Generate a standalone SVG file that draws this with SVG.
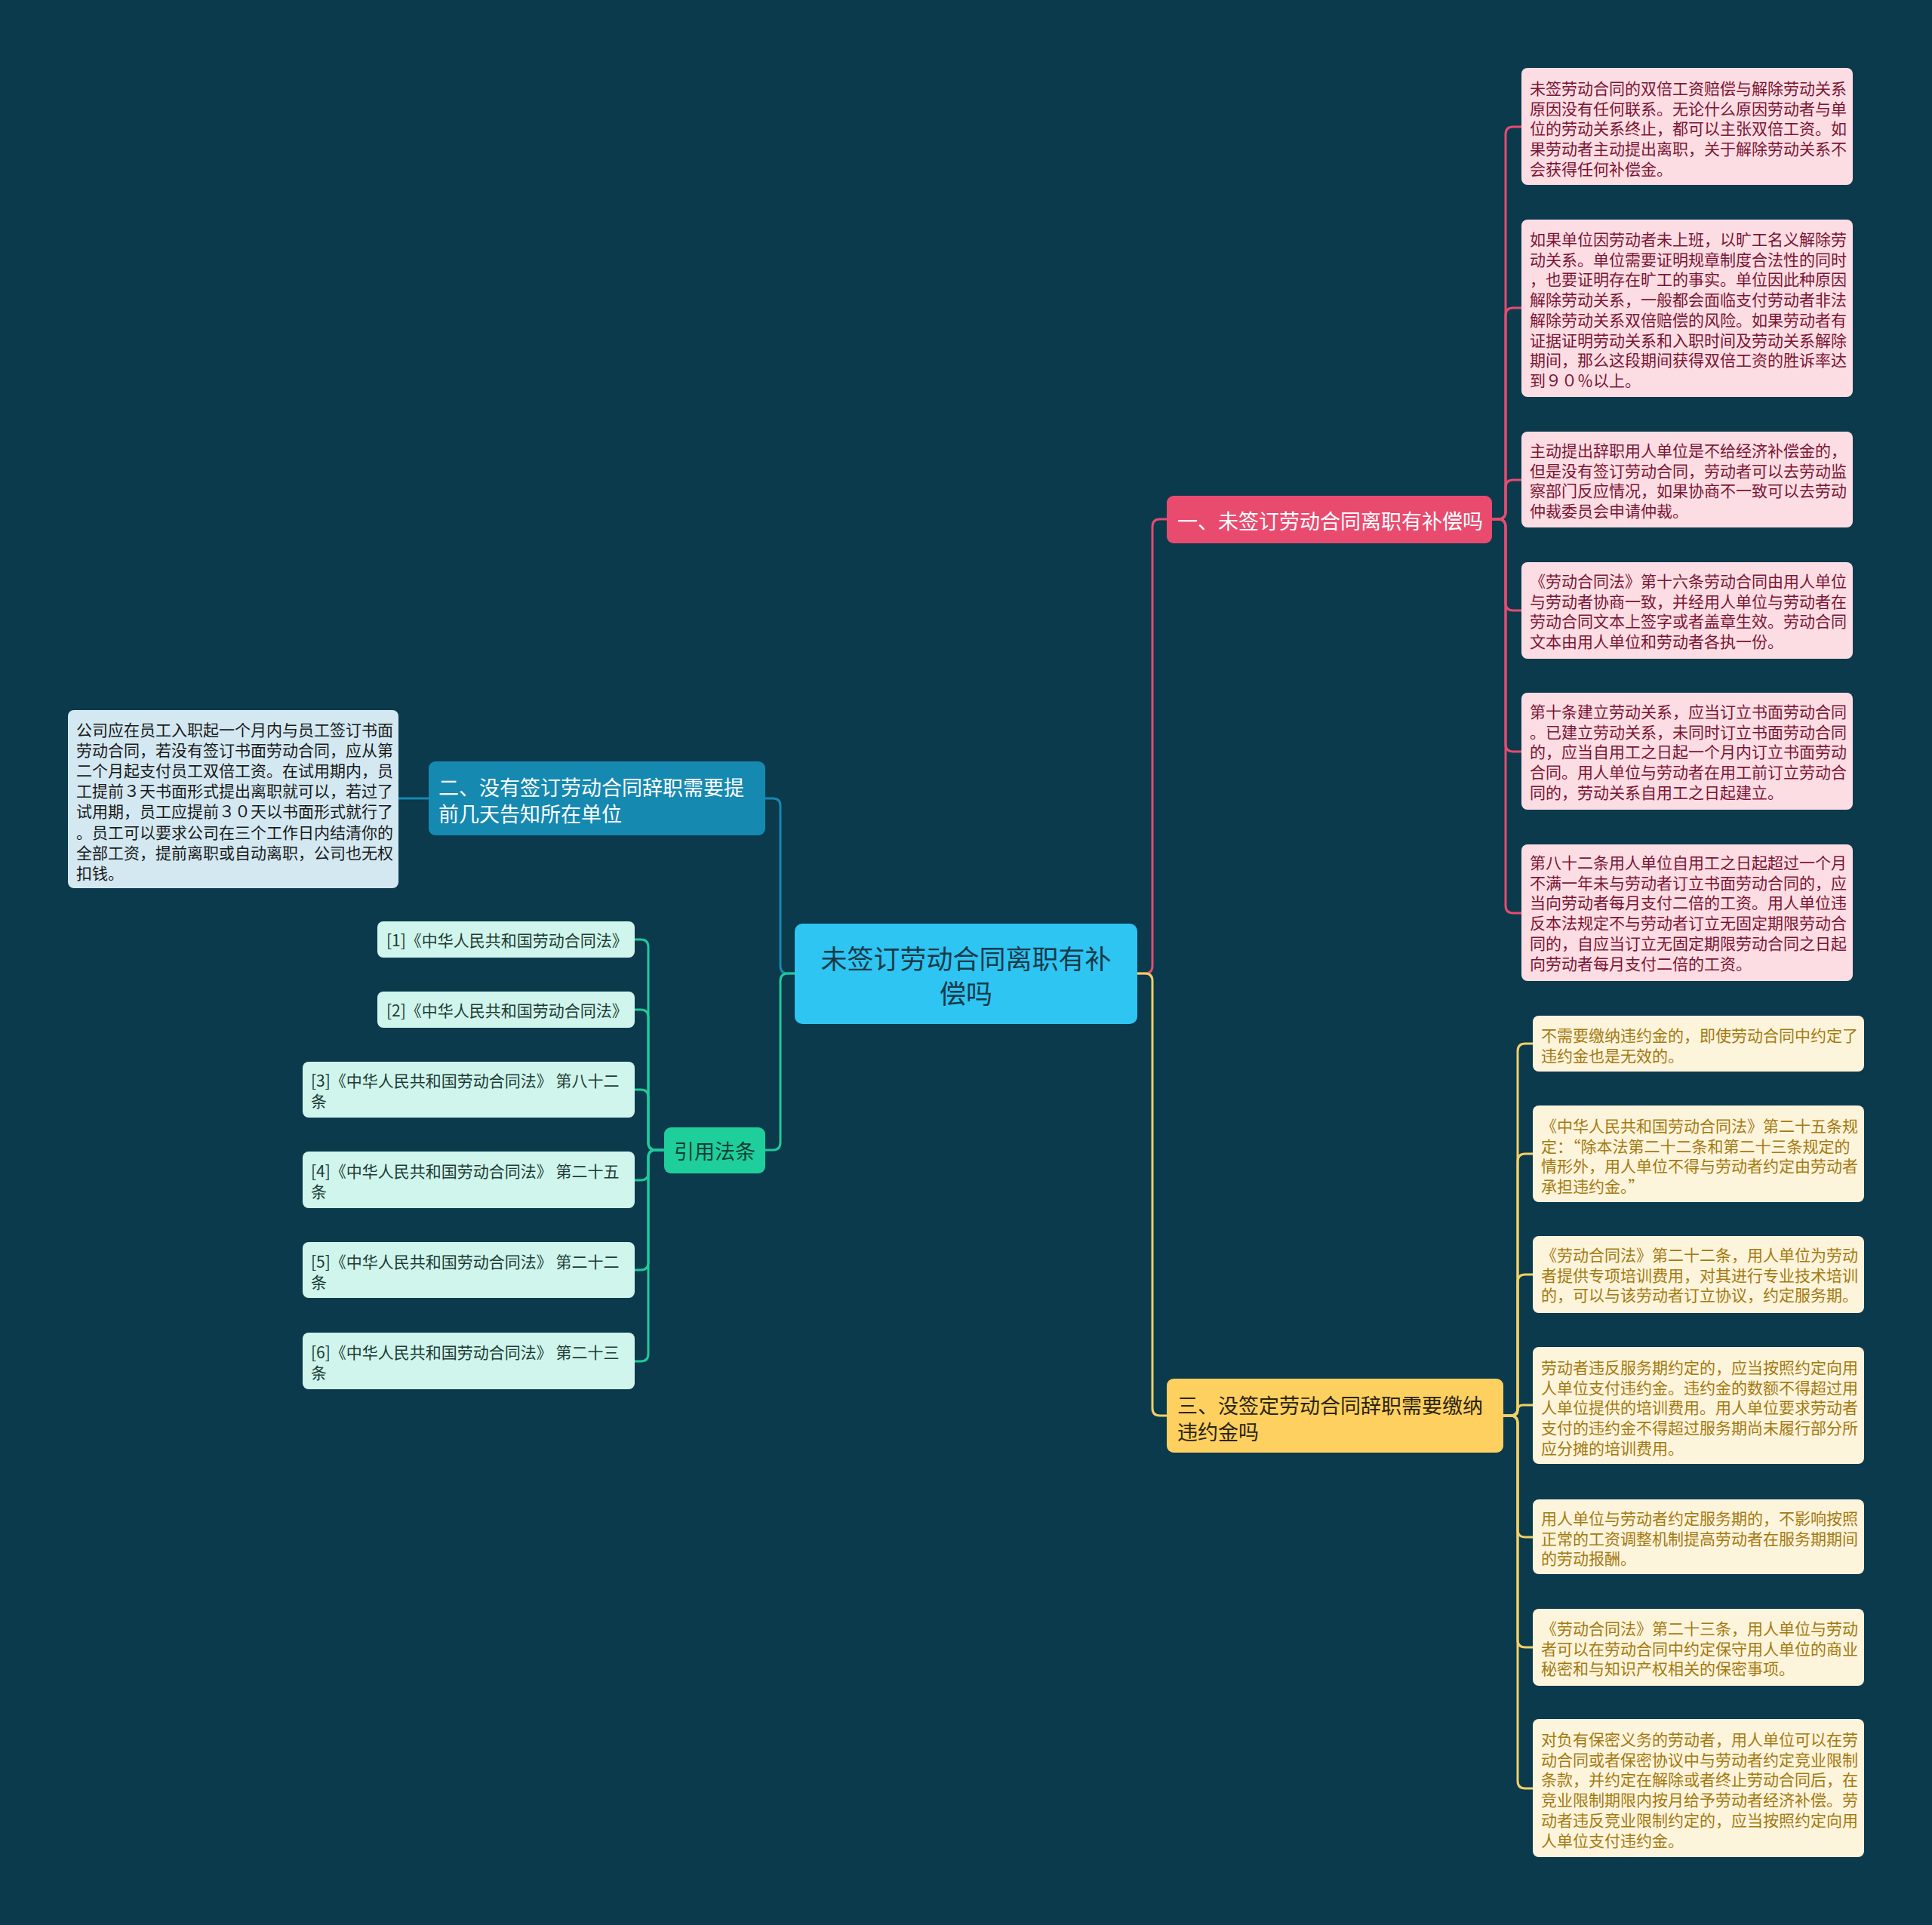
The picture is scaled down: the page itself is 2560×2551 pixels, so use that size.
<svg xmlns="http://www.w3.org/2000/svg" width="2560" height="2551" viewBox="0 0 2560 2551">
<style>
text{font-family:"Noto Sans CJK SC","Noto Sans",sans-serif;dominant-baseline:central}
.pk{fill:#fbdde3}
.pkt{fill:#7b1535;font-size:21px}
.yl{fill:#fdf4dc}
.ylt{fill:#a47a10;font-size:21px}
.ct{fill:#cff5ec}
.ctt{fill:#1e3b35;font-size:21px}
.c{fill:none;stroke-width:3}
</style>
<rect width="2560" height="2551" fill="#0b3a4d"/>
<g id="connectors">
<path class="c" stroke="#1688b0" d="M1053,1290 H1044 Q1034,1290 1034,1280 V1068 Q1034,1058 1024,1058 H1014"/>
<path class="c" stroke="#1688b0" d="M568,1058 H528"/>
<path class="c" stroke="#1fc99a" d="M1053,1290 H1044 Q1034,1290 1034,1300 V1514 Q1034,1524 1024,1524 H1014"/>
<path class="c" stroke="#e84b70" d="M1507,1290 H1517 Q1527,1290 1527,1280 V698 Q1527,688 1537,688 H1546"/>
<path class="c" stroke="#f2cf66" d="M1507,1290 H1517 Q1527,1290 1527,1300 V1866 Q1527,1876 1537,1876 H1546"/>
<g stroke="#e84b70" class="c">
<path class="c" d="M1977,688 H1985 Q1995,688 1995,678 V178 Q1995,168 2005,168 H2016"/>
<path class="c" d="M1977,688 H1985 Q1995,688 1995,678 V418 Q1995,408 2005,408 H2016"/>
<path class="c" d="M1977,688 H1985 Q1995,688 1995,678 V646 Q1995,636 2005,636 H2016"/>
<path class="c" d="M1977,688 H1985 Q1995,688 1995,698 V799 Q1995,809 2005,809 H2016"/>
<path class="c" d="M1977,688 H1985 Q1995,688 1995,698 V986 Q1995,996 2005,996 H2016"/>
<path class="c" d="M1977,688 H1985 Q1995,688 1995,698 V1200 Q1995,1210 2005,1210 H2016"/>
</g>
<g stroke="#f2cf66" class="c">
<path class="c" d="M1992,1876 H2001 Q2011,1876 2011,1866 V1393 Q2011,1383 2021,1383 H2031"/>
<path class="c" d="M1992,1876 H2001 Q2011,1876 2011,1866 V1539 Q2011,1529 2021,1529 H2031"/>
<path class="c" d="M1992,1876 H2001 Q2011,1876 2011,1866 V1699 Q2011,1689 2021,1689 H2031"/>
<path class="c" d="M1992,1876 H2004 Q2011,1876 2011,1869 Q2011,1862 2018,1862 H2031"/>
<path class="c" d="M1992,1876 H2001 Q2011,1876 2011,1886 V2027 Q2011,2037 2021,2037 H2031"/>
<path class="c" d="M1992,1876 H2001 Q2011,1876 2011,1886 V2173 Q2011,2183 2021,2183 H2031"/>
<path class="c" d="M1992,1876 H2001 Q2011,1876 2011,1886 V2360 Q2011,2370 2021,2370 H2031"/>
</g>
<g stroke="#1fc99a" class="c">
<path class="c" d="M880,1524 H869 Q859,1524 859,1514 V1255 Q859,1245 849,1245 H841"/>
<path class="c" d="M880,1524 H869 Q859,1524 859,1514 V1348 Q859,1338 849,1338 H841"/>
<path class="c" d="M880,1524 H869 Q859,1524 859,1514 V1454 Q859,1444 849,1444 H841"/>
<path class="c" d="M880,1524 H869 Q859,1524 859,1534 V1554 Q859,1564 849,1564 H841"/>
<path class="c" d="M880,1524 H869 Q859,1524 859,1534 V1673 Q859,1683 849,1683 H841"/>
<path class="c" d="M880,1524 H869 Q859,1524 859,1534 V1794 Q859,1804 849,1804 H841"/>
</g>
</g>
<g id="center">
<rect x="1053" y="1224" width="454" height="133" rx="10" fill="#2ec5f3"/>
<text font-size="35" text-anchor="middle" fill="#173a48"><tspan x="1280" y="1268">未签订劳动合同离职有补</tspan><tspan x="1280" y="1314">偿吗</tspan></text>
</g>
<g id="branch1">
<rect x="1546" y="657" width="431" height="63" rx="9" fill="#e94b6f"/>
<text x="1560" y="689" font-size="27" fill="#ffffff">一、未签订劳动合同离职有补偿吗</text>
</g>
<g id="branch2">
<rect x="568" y="1009" width="446" height="98" rx="9" fill="#1689b1"/>
<text font-size="27" fill="#ffffff"><tspan x="581" y="1042">二、没有签订劳动合同辞职需要提</tspan><tspan x="581" y="1077">前几天告知所在单位</tspan></text>
</g>
<g id="branch3">
<rect x="1546" y="1827" width="446" height="98" rx="9" fill="#fdd060"/>
<text font-size="27" fill="#2a2410"><tspan x="1560" y="1861">三、没签定劳动合同辞职需要缴纳</tspan><tspan x="1560" y="1896">违约金吗</tspan></text>
</g>
<g id="cite">
<rect x="880" y="1494" width="134" height="61" rx="9" fill="#1fcf9b"/>
<text x="947" y="1524" font-size="27" text-anchor="middle" fill="#0e3f36">引用法条</text>
</g>
<g id="left-note">
<rect x="90" y="941" width="438" height="236" rx="8" fill="#d3e8f1"/>
<text font-size="21" fill="#1a1a1a">
<tspan x="101" y="966">公司应在员工入职起一个月内与员工签订书面</tspan>
<tspan x="101" y="993.1">劳动合同，若没有签订书面劳动合同，应从第</tspan>
<tspan x="101" y="1020.2">二个月起支付员工双倍工资。在试用期内，员</tspan>
<tspan x="101" y="1047.3">工提前３天书面形式提出离职就可以，若过了</tspan>
<tspan x="101" y="1074.4">试用期，员工应提前３０天以书面形式就行了</tspan>
<tspan x="101" y="1101.5">。员工可以要求公司在三个工作日内结清你的</tspan>
<tspan x="101" y="1128.6">全部工资，提前离职或自动离职，公司也无权</tspan>
<tspan x="101" y="1155.7">扣钱。</tspan>
</text>
</g>
<g id="c1">
<rect class="ct" x="500" y="1221" width="341" height="48" rx="8"/>
<text class="ctt" x="512" y="1245">[1]《中华人民共和国劳动合同法》</text>
</g>
<g id="c2">
<rect class="ct" x="500" y="1314" width="341" height="48" rx="8"/>
<text class="ctt" x="512" y="1338">[2]《中华人民共和国劳动合同法》</text>
</g>
<g id="c3">
<rect class="ct" x="401" y="1407" width="440" height="74" rx="8"/>
<text class="ctt"><tspan x="412" y="1431">[3]《中华人民共和国劳动合同法》 第八十二</tspan><tspan x="412" y="1458">条</tspan></text>
</g>
<g id="c4">
<rect class="ct" x="401" y="1526" width="440" height="75" rx="8"/>
<text class="ctt"><tspan x="412" y="1551">[4]《中华人民共和国劳动合同法》 第二十五</tspan><tspan x="412" y="1578">条</tspan></text>
</g>
<g id="c5">
<rect class="ct" x="401" y="1646" width="440" height="74" rx="8"/>
<text class="ctt"><tspan x="412" y="1671">[5]《中华人民共和国劳动合同法》 第二十二</tspan><tspan x="412" y="1698">条</tspan></text>
</g>
<g id="c6">
<rect class="ct" x="401" y="1766" width="440" height="75" rx="8"/>
<text class="ctt"><tspan x="412" y="1791">[6]《中华人民共和国劳动合同法》 第二十三</tspan><tspan x="412" y="1818">条</tspan></text>
</g>
<g id="p1">
<rect class="pk" x="2016" y="90" width="439" height="155" rx="8"/>
<text class="pkt">
<tspan x="2027" y="116">未签劳动合同的双倍工资赔偿与解除劳动关系</tspan>
<tspan x="2027" y="142.7">原因没有任何联系。无论什么原因劳动者与单</tspan>
<tspan x="2027" y="169.4">位的劳动关系终止，都可以主张双倍工资。如</tspan>
<tspan x="2027" y="196.1">果劳动者主动提出离职，关于解除劳动关系不</tspan>
<tspan x="2027" y="222.8">会获得任何补偿金。</tspan>
</text>
</g>
<g id="p2">
<rect class="pk" x="2016" y="291" width="439" height="235" rx="8"/>
<text class="pkt">
<tspan x="2027" y="316">如果单位因劳动者未上班，以旷工名义解除劳</tspan>
<tspan x="2027" y="342.7">动关系。单位需要证明规章制度合法性的同时</tspan>
<tspan x="2027" y="369.4">，也要证明存在旷工的事实。单位因此种原因</tspan>
<tspan x="2027" y="396.1">解除劳动关系，一般都会面临支付劳动者非法</tspan>
<tspan x="2027" y="422.8">解除劳动关系双倍赔偿的风险。如果劳动者有</tspan>
<tspan x="2027" y="449.5">证据证明劳动关系和入职时间及劳动关系解除</tspan>
<tspan x="2027" y="476.2">期间，那么这段期间获得双倍工资的胜诉率达</tspan>
<tspan x="2027" y="502.9">到９０％以上。</tspan>
</text>
</g>
<g id="p3">
<rect class="pk" x="2016" y="572" width="439" height="127" rx="8"/>
<text class="pkt">
<tspan x="2027" y="596">主动提出辞职用人单位是不给经济补偿金的，</tspan>
<tspan x="2027" y="622.7">但是没有签订劳动合同，劳动者可以去劳动监</tspan>
<tspan x="2027" y="649.4">察部门反应情况，如果协商不一致可以去劳动</tspan>
<tspan x="2027" y="676.1">仲裁委员会申请仲裁。</tspan>
</text>
</g>
<g id="p4">
<rect class="pk" x="2016" y="745" width="439" height="128" rx="8"/>
<text class="pkt">
<tspan x="2027" y="769">《劳动合同法》第十六条劳动合同由用人单位</tspan>
<tspan x="2027" y="795.7">与劳动者协商一致，并经用人单位与劳动者在</tspan>
<tspan x="2027" y="822.4">劳动合同文本上签字或者盖章生效。劳动合同</tspan>
<tspan x="2027" y="849.1">文本由用人单位和劳动者各执一份。</tspan>
</text>
</g>
<g id="p5">
<rect class="pk" x="2016" y="918" width="439" height="155" rx="8"/>
<text class="pkt">
<tspan x="2027" y="942">第十条建立劳动关系，应当订立书面劳动合同</tspan>
<tspan x="2027" y="968.7">。已建立劳动关系，未同时订立书面劳动合同</tspan>
<tspan x="2027" y="995.4">的，应当自用工之日起一个月内订立书面劳动</tspan>
<tspan x="2027" y="1022.1">合同。用人单位与劳动者在用工前订立劳动合</tspan>
<tspan x="2027" y="1048.8">同的，劳动关系自用工之日起建立。</tspan>
</text>
</g>
<g id="p6">
<rect class="pk" x="2016" y="1119" width="439" height="181" rx="8"/>
<text class="pkt">
<tspan x="2027" y="1142">第八十二条用人单位自用工之日起超过一个月</tspan>
<tspan x="2027" y="1168.7">不满一年未与劳动者订立书面劳动合同的，应</tspan>
<tspan x="2027" y="1195.4">当向劳动者每月支付二倍的工资。用人单位违</tspan>
<tspan x="2027" y="1222.1">反本法规定不与劳动者订立无固定期限劳动合</tspan>
<tspan x="2027" y="1248.8">同的，自应当订立无固定期限劳动合同之日起</tspan>
<tspan x="2027" y="1275.5">向劳动者每月支付二倍的工资。</tspan>
</text>
</g>
<g id="y1">
<rect class="yl" x="2031" y="1346" width="439" height="74" rx="8"/>
<text class="ylt">
<tspan x="2042" y="1371">不需要缴纳违约金的，即使劳动合同中约定了</tspan>
<tspan x="2042" y="1397.7">违约金也是无效的。</tspan>
</text>
</g>
<g id="y2">
<rect class="yl" x="2031" y="1465" width="439" height="128" rx="8"/>
<text class="ylt">
<tspan x="2042" y="1491">《中华人民共和国劳动合同法》第二十五条规</tspan>
<tspan x="2042" y="1517.7">定：“除本法第二十二条和第二十三条规定的</tspan>
<tspan x="2042" y="1544.4">情形外，用人单位不得与劳动者约定由劳动者</tspan>
<tspan x="2042" y="1571.1">承担违约金。”</tspan>
</text>
</g>
<g id="y3">
<rect class="yl" x="2031" y="1638" width="439" height="102" rx="8"/>
<text class="ylt">
<tspan x="2042" y="1662">《劳动合同法》第二十二条，用人单位为劳动</tspan>
<tspan x="2042" y="1688.7">者提供专项培训费用，对其进行专业技术培训</tspan>
<tspan x="2042" y="1715.4">的，可以与该劳动者订立协议，约定服务期。</tspan>
</text>
</g>
<g id="y4">
<rect class="yl" x="2031" y="1785" width="439" height="155" rx="8"/>
<text class="ylt">
<tspan x="2042" y="1811">劳动者违反服务期约定的，应当按照约定向用</tspan>
<tspan x="2042" y="1837.7">人单位支付违约金。违约金的数额不得超过用</tspan>
<tspan x="2042" y="1864.4">人单位提供的培训费用。用人单位要求劳动者</tspan>
<tspan x="2042" y="1891.1">支付的违约金不得超过服务期尚未履行部分所</tspan>
<tspan x="2042" y="1917.8">应分摊的培训费用。</tspan>
</text>
</g>
<g id="y5">
<rect class="yl" x="2031" y="1987" width="439" height="99" rx="8"/>
<text class="ylt">
<tspan x="2042" y="2011">用人单位与劳动者约定服务期的，不影响按照</tspan>
<tspan x="2042" y="2037.7">正常的工资调整机制提高劳动者在服务期期间</tspan>
<tspan x="2042" y="2064.4">的劳动报酬。</tspan>
</text>
</g>
<g id="y6">
<rect class="yl" x="2031" y="2132" width="439" height="102" rx="8"/>
<text class="ylt">
<tspan x="2042" y="2157">《劳动合同法》第二十三条，用人单位与劳动</tspan>
<tspan x="2042" y="2183.7">者可以在劳动合同中约定保守用人单位的商业</tspan>
<tspan x="2042" y="2210.4">秘密和与知识产权相关的保密事项。</tspan>
</text>
</g>
<g id="y7">
<rect class="yl" x="2031" y="2278" width="439" height="183" rx="8"/>
<text class="ylt">
<tspan x="2042" y="2304">对负有保密义务的劳动者，用人单位可以在劳</tspan>
<tspan x="2042" y="2330.7">动合同或者保密协议中与劳动者约定竞业限制</tspan>
<tspan x="2042" y="2357.4">条款，并约定在解除或者终止劳动合同后，在</tspan>
<tspan x="2042" y="2384.1">竞业限制期限内按月给予劳动者经济补偿。劳</tspan>
<tspan x="2042" y="2410.8">动者违反竞业限制约定的，应当按照约定向用</tspan>
<tspan x="2042" y="2437.5">人单位支付违约金。</tspan>
</text>
</g>
</svg>
